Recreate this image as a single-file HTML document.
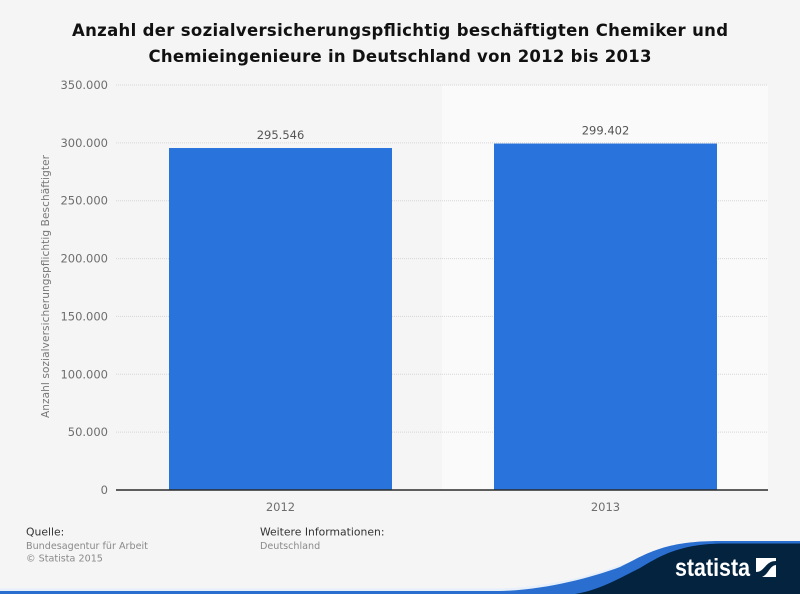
<!DOCTYPE html>
<html>
<head>
<meta charset="utf-8">
<style>
html,body{margin:0;padding:0;background:#f5f5f5;}
svg{display:block;}
text{font-family:"DejaVu Sans","Liberation Sans",sans-serif;}
</style>
</head>
<body>
<svg id="chart" width="800" height="594" viewBox="0 0 800 594" xmlns="http://www.w3.org/2000/svg">
  <rect x="0" y="0" width="800" height="594" fill="#f5f5f5"/>
  <text x="400" y="36" text-anchor="middle" font-size="16.5" font-weight="bold" fill="#111" textLength="656" lengthAdjust="spacing">Anzahl der sozialversicherungspflichtig beschäftigten Chemiker und</text>
  <text x="400" y="62" text-anchor="middle" font-size="16.5" font-weight="bold" fill="#111" textLength="503" lengthAdjust="spacing">Chemieingenieure in Deutschland von 2012 bis 2013</text>
  <g id="plot"></g>
  <text transform="translate(49,286.5) rotate(-90)" text-anchor="middle" font-size="10.5" fill="#777" textLength="263" lengthAdjust="spacing">Anzahl sozialversicherungspflichtig Beschäftigter</text>
  <text x="26" y="535.5" font-size="10.8" fill="#333">Quelle:</text>
  <text x="26" y="549" font-size="9.6" fill="#8a8a8a">Bundesagentur für Arbeit</text>
  <text x="26" y="561.5" font-size="9.6" fill="#8a8a8a">© Statista 2015</text>
  <text x="260" y="535.5" font-size="10.8" fill="#333">Weitere Informationen:</text>
  <text x="260" y="549" font-size="9.6" fill="#8a8a8a">Deutschland</text>
  <path d="M0 588.5L500 588.5C545 587.5 590 576 620 565L640 560L640 594L0 594Z" fill="#e6effa"/>
  <path d="M0 591L500 591C545 590 590 578 620 567C648 553 665 541 720 541L800 541L800 594L0 594Z" fill="#2a6fd0"/>
  <path d="M575 594C600 590 620 578 640 568C660 556 680 543.500 725 543.500L800 543.500L800 594Z" fill="#04233f"/>
  <text x="675" y="576" font-size="25" font-weight="bold" fill="#fff" textLength="75" lengthAdjust="spacingAndGlyphs" style="font-family:'Liberation Sans',sans-serif">statista</text>
  <g>
    <rect x="756" y="558" width="20" height="19" fill="#fff"/>
    <path d="M756 572C765 572 765 561 776 561L776 565C769 566 769 574 762 577L756 577Z" fill="#04233f"/>
  </g>
</svg>
<script>
var categories = ["2012", "2013"];
var seriesValues = [295546, 299402];
var valueLabels = ["295.546", "299.402"];
var yTicks = [0, 50000, 100000, 150000, 200000, 250000, 300000, 350000];
var yTickLabels = ["0", "50.000", "100.000", "150.000", "200.000", "250.000", "300.000", "350.000"];

var NS = "http://www.w3.org/2000/svg";
var plot = document.getElementById("plot");
var axisLeft = 116, scaleLeft = 118, right = 768, top_ = 85, bottom = 490, yMax = 350000;
function yScale(v) { return bottom - (bottom - top_) * v / yMax; }
function bandWidth() { return (right - scaleLeft) / categories.length; }
function xBand(i) { return scaleLeft + i * bandWidth(); }
function make(tag, attrs, text) {
  var el = document.createElementNS(NS, tag);
  for (var k in attrs) { el.setAttribute(k, attrs[k]); }
  if (text !== undefined) { el.textContent = text; }
  plot.appendChild(el);
  return el;
}
var bandFills = ["#f5f5f5", "#fafafa"];
categories.forEach(function (c, i) {
  var bandStart = i === 0 ? axisLeft : xBand(i) - 1;
  var bandEnd = i === categories.length - 1 ? right : xBand(i + 1) - 1;
  var band = make("rect", {x: bandStart, y: top_, width: bandEnd - bandStart, height: bottom - top_, fill: bandFills[i % 2]});
  
  
});
yTicks.forEach(function (t, i) {
  var y = yScale(t);
  if (t !== 0) {
    var grid = make("line", {x1: axisLeft, x2: right, y1: y, y2: y, stroke: "#d6d6d6", "stroke-width": 1, "stroke-dasharray": "1 1"});
    
    
  }
  var tick = make("text", {x: 108, y: y + 4, "text-anchor": "end", "font-size": 11.5, fill: "#6e6e6e"}, yTickLabels[i]);
  
  
});
var barRatio = 223 / 325;
categories.forEach(function (c, i) {
  var w = bandWidth() * barRatio;
  var x = xBand(i) + (bandWidth() - w) / 2;
  var y = yScale(seriesValues[i]);
  var bar = make("rect", {x: x, y: y, width: w, height: bottom - y, fill: "#2874dc"});
  
  
  var label = make("text", {x: x + w / 2, y: y - 9, "text-anchor": "middle", "font-size": 11.5, fill: "#555"}, valueLabels[i]);
  
  
  var cat = make("text", {x: x + w / 2, y: 511, "text-anchor": "middle", "font-size": 11.5, fill: "#6e6e6e"}, c);
  
  
});
var axis = make("line", {x1: axisLeft, x2: right, y1: bottom, y2: bottom, stroke: "#2b2b2b", "stroke-width": 1.4});


</script>
</body>
</html>
